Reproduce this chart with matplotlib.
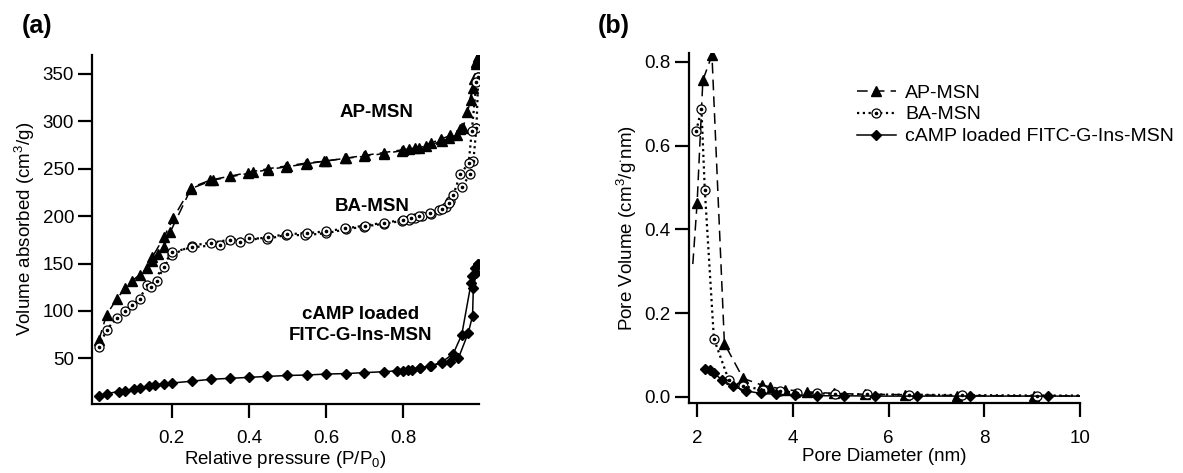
import matplotlib
matplotlib.use("Agg")
import matplotlib.pyplot as plt
from matplotlib.legend_handler import HandlerTuple
from matplotlib.lines import Line2D

plt.rcParams['font.family'] = ['Liberation Sans', 'DejaVu Sans']
plt.rcParams['mathtext.fontset'] = 'custom'
plt.rcParams['mathtext.rm'] = 'Liberation Sans'
plt.rcParams['mathtext.it'] = 'Liberation Sans:italic'

# ---------------- Panel (a): isotherms ----------------
ap_ads_x = [0.011, 0.031, 0.058, 0.079, 0.097, 0.117, 0.136, 0.148, 0.165, 0.179, 0.196,
            0.25, 0.307, 0.398, 0.449, 0.497, 0.548, 0.596, 0.651, 0.699, 0.75, 0.798,
            0.832, 0.871, 0.897, 0.922, 0.948, 0.965, 0.98, 0.99, 0.995]
ap_ads_y = [69, 96, 113, 124, 132, 138, 145, 153, 160, 167, 183,
            229, 238, 245, 249, 252, 255, 258, 261, 263, 266, 269,
            272, 277, 281, 285, 292, 310, 335, 360, 368]
ap_des_x = [0.995, 0.99, 0.985, 0.975, 0.955, 0.94, 0.92, 0.9, 0.86, 0.84, 0.815, 0.8,
            0.75, 0.7, 0.65, 0.6, 0.55, 0.5, 0.45, 0.411, 0.35, 0.3, 0.25, 0.204, 0.18, 0.15]
ap_des_y = [368, 362, 345, 322, 293, 286, 282, 279, 274, 272, 271, 270,
            267, 264, 261, 258, 256, 253, 250, 247, 242, 238, 230, 198, 178, 157]

ba_ads_x = [0.011, 0.031, 0.058, 0.079, 0.097, 0.117, 0.136, 0.162, 0.179, 0.2,
            0.252, 0.303, 0.35, 0.4, 0.447, 0.495, 0.546, 0.6, 0.651, 0.699, 0.75,
            0.798, 0.815, 0.832, 0.85, 0.871, 0.892, 0.91, 0.922, 0.952, 0.974, 0.982,
            0.99, 0.995]
ba_ads_y = [62, 80, 93, 100, 106, 113, 127, 132, 146, 159,
            169, 172, 175, 177, 176, 180, 180, 182, 186, 189, 192,
            195, 196, 198, 200, 202, 206, 210, 216, 231, 244, 258,
            293, 347]
ba_des_x = [0.995, 0.99, 0.978, 0.97, 0.948, 0.93, 0.918, 0.9, 0.87, 0.84, 0.82, 0.8,
            0.75, 0.7, 0.65, 0.6, 0.55, 0.5, 0.45, 0.376, 0.325, 0.252, 0.2, 0.145]
ba_des_y = [347, 341, 290, 256, 244, 222, 214, 207, 203, 200, 198, 196,
            193, 190, 187, 184, 182, 181, 178, 173, 170, 167, 162, 125]

camp_ads_x = [0.011, 0.032, 0.062, 0.079, 0.101, 0.118, 0.14, 0.157, 0.179, 0.2,
              0.252, 0.303, 0.35, 0.4, 0.447, 0.499, 0.551, 0.6, 0.651, 0.699, 0.75,
              0.785, 0.8, 0.812, 0.824, 0.845, 0.871, 0.901, 0.922, 0.943, 0.969,
              0.98, 0.982, 0.99, 0.995]
camp_ads_y = [10, 13, 15, 16, 18, 19, 21, 22, 23, 24,
              26, 28, 29, 30, 31, 32, 32.5, 33.5, 34, 35, 36,
              37, 37, 37.5, 37.5, 39.5, 42, 45, 46.5, 50, 77,
              95, 124, 140, 150]
camp_des_x = [0.995, 0.986, 0.979, 0.976, 0.952, 0.93, 0.9, 0.87, 0.845]
camp_des_y = [150, 145, 137, 129, 75, 55, 46, 42, 40]

# ---------------- Panel (b): pore size distribution ----------------
ap_psd_x = [1.91, 2.0, 2.12, 2.31, 2.57, 2.96, 3.35, 3.52, 3.84, 4.29, 4.85, 5.51, 6.35, 7.43, 9.04, 10.0]
ap_psd_y = [0.317, 0.463, 0.756, 0.816, 0.127, 0.044, 0.028, 0.024, 0.017, 0.012, 0.008,
            0.006, 0.005, 0.003, 0.002, 0.002]
ap_psd_mark = [False] + [True] * 14 + [False]

ba_psd_x = [1.98, 2.09, 2.16, 2.35, 2.66, 2.96, 3.38, 3.73, 4.08, 4.5, 4.88, 5.55, 6.42, 7.54, 9.09, 10.0]
ba_psd_y = [0.634, 0.688, 0.495, 0.139, 0.04, 0.025, 0.017, 0.013, 0.01, 0.008, 0.007,
            0.0055, 0.005, 0.004, 0.003, 0.003]
ba_psd_mark = [True] * 15 + [False]

camp_psd_x = [2.16, 2.27, 2.35, 2.51, 2.75, 3.03, 3.33, 3.65, 4.05, 4.5, 5.06, 5.72, 6.59, 7.71, 9.33, 10.0]
camp_psd_y = [0.067, 0.063, 0.057, 0.041, 0.025, 0.014, 0.008, 0.006, 0.004, 0.0024, 0.0024,
              0.0016, 0.0016, 0.0016, 0.0016, 0.0016]
camp_psd_mark = [True] * 15 + [False]

labels = ['AP-MSN', 'BA-MSN', 'cAMP loaded FITC-G-Ins-MSN']

DASH = (0, (7, 4))
DOT = (0, (1, 1.6))
LW = 1.1

fig = plt.figure(figsize=(11.83, 4.73), dpi=100)
axa = fig.add_axes([0.078, 0.146, 0.327, 0.738])
axb = fig.add_axes([0.582, 0.147, 0.331, 0.740])

def style(ax):
    for s in ['top', 'right']:
        ax.spines[s].set_visible(False)
    for s in ['left', 'bottom']:
        ax.spines[s].set_linewidth(1.6)
    ax.tick_params(axis='both', direction='out', length=10, width=1.6, labelsize=13.5)
    ax.tick_params(axis='x', pad=9)
    ax.tick_params(axis='y', pad=3)

def circ(ax, x, y, every=None):
    ax.plot(x, y, linestyle='none', marker='o', ms=6.5, mfc='white', mec='black', mew=0.9,
            markevery=every)
    ax.plot(x, y, linestyle='none', marker='o', ms=1.6, mfc='black', mec='black',
            markevery=every)

# panel a
axa.plot(ap_ads_x, ap_ads_y, color='black', lw=LW, linestyle=DASH, marker='^', ms=6.5)
axa.plot(ap_des_x, ap_des_y, color='black', lw=LW, linestyle=DASH, marker='^', ms=6.5)
axa.plot(ba_ads_x, ba_ads_y, color='black', lw=1.6, linestyle=DOT)
axa.plot(ba_des_x, ba_des_y, color='black', lw=1.6, linestyle=DOT)
circ(axa, ba_ads_x, ba_ads_y)
circ(axa, ba_des_x, ba_des_y)
axa.plot(camp_ads_x, camp_ads_y, color='black', lw=LW, linestyle='-', marker='D', ms=5.5)
axa.plot(camp_des_x, camp_des_y, color='black', lw=LW, linestyle='-', marker='D', ms=5.5)

axa.set_xlim(-0.006, 0.997)
axa.set_ylim(2, 370)
axa.set_xticks([0.2, 0.4, 0.6, 0.8])
axa.set_yticks([50, 100, 150, 200, 250, 300, 350])
style(axa)
axa.set_xlabel('Relative pressure (P/P$_0$)', fontsize=13.5, labelpad=1)
axa.set_ylabel('Volume absorbed (cm$^3$/g)', fontsize=13.5, labelpad=4)
axa.text(0.73, 309, 'AP-MSN', ha='center', va='center', fontsize=13.5, fontweight='bold')
axa.text(0.72, 210, 'BA-MSN', ha='center', va='center', fontsize=13.5, fontweight='bold')
axa.text(0.69, 85, 'cAMP loaded\nFITC-G-Ins-MSN', ha='center', va='center', fontsize=13.5,
         fontweight='bold', linespacing=1.3)

# panel b
axb.plot(ap_psd_x, ap_psd_y, color='black', lw=LW, linestyle=DASH, marker='^', ms=6.5,
         markevery=ap_psd_mark)
axb.plot(ba_psd_x, ba_psd_y, color='black', lw=1.6, linestyle=DOT)
circ(axb, ba_psd_x, ba_psd_y, every=ba_psd_mark)
axb.plot(camp_psd_x, camp_psd_y, color='black', lw=LW, linestyle='-', marker='D', ms=5.5,
         markevery=camp_psd_mark)
axb.set_xlim(1.82, 10.0)
axb.set_ylim(-0.016, 0.82)
axb.set_xticks([2, 4, 6, 8, 10])
axb.set_yticks([0.0, 0.2, 0.4, 0.6, 0.8])
axb.yaxis.set_major_formatter(matplotlib.ticker.FormatStrFormatter('%.1f'))
style(axb)
axb.set_xlabel('Pore Diameter (nm)', fontsize=13.5, labelpad=1)
axb.set_ylabel('Pore Volume (cm$^3$/g$^{\\cdot}$nm)', fontsize=13.5, labelpad=4)

h1 = Line2D([], [], color='black', lw=LW, linestyle=DASH, marker='^', ms=6.5)
h2a = Line2D([], [], color='black', lw=1.6, linestyle=DOT, marker='o', ms=6.5, mfc='white',
             mec='black', mew=0.9)
h2b = Line2D([], [], linestyle='none', marker='o', ms=1.6, color='black')
h3 = Line2D([], [], color='black', lw=LW, linestyle='-', marker='D', ms=5.5)
axb.legend([h1, (h2a, h2b), h3], labels, handler_map={tuple: HandlerTuple(ndivide=1)},
           loc='upper left', bbox_to_anchor=(0.41, 0.935), frameon=False, fontsize=14,
           handlelength=2.0, handletextpad=0.5, labelspacing=0.22, borderaxespad=0)

fig.text(0.018, 0.93, '(a)', fontsize=18, fontweight='bold')
fig.text(0.505, 0.93, '(b)', fontsize=18, fontweight='bold')

fig.savefig('out.png', dpi=100)
